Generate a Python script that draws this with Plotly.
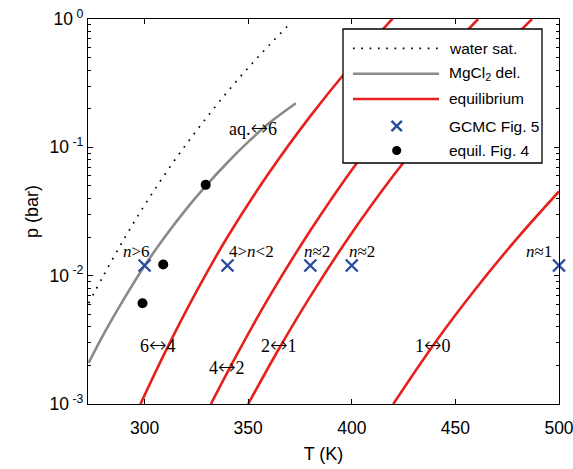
import numpy as np
import plotly.graph_objects as go

# ---------------- data ----------------
water_T = [273, 280, 290, 300, 310, 320, 330, 340, 350, 360, 371]
water_p = [0.0061, 0.0099, 0.0192, 0.0354, 0.0623, 0.105, 0.171, 0.271, 0.416, 0.622, 0.95]

mgcl_T = [273, 280, 290, 300, 310, 320, 330, 340, 350, 360, 373]
mgcl_p = [0.00209, 0.00344, 0.00656, 0.01194, 0.02028, 0.03289, 0.05093, 0.0762, 0.1102, 0.1538, 0.2203]

eq64_T = [298, 310, 325, 340, 360, 380, 400, 420]
eq64_p = [0.001, 0.00255, 0.0075, 0.020, 0.063, 0.175, 0.44, 1.02]

eq42_T = [332, 345, 360, 380, 400, 420, 440, 461]
eq42_p = [0.001, 0.0025, 0.00678, 0.0225, 0.0667, 0.177, 0.434, 1.0]

eq21_T = [350, 365, 380, 400, 420, 440, 460, 487]
eq21_p = [0.001, 0.00272, 0.0069, 0.0215, 0.060, 0.153, 0.359, 1.0]

eq10_T = [420, 440, 460, 480, 500]
eq10_p = [0.001, 0.00298, 0.00798, 0.0197, 0.0453]

gcmc_T = [300, 340, 380, 400, 500]
gcmc_p = [0.012, 0.012, 0.012, 0.012, 0.012]
gcmc_labels = ["<i>n</i>&gt;6", "4&gt;<i>n</i>&lt;2", "<i>n</i>≈2", "<i>n</i>≈2", "<i>n</i>≈1"]

fig4_T = [299, 309, 329.5]
fig4_p = [0.0061, 0.0122, 0.051]

ARROW = '<span style="font-family:DejaVu Sans;font-weight:200;font-size:21px">↔</span>'
trans_labels = ["6" + ARROW + "4", "4" + ARROW + "2", "2" + ARROW + "1", "1" + ARROW + "0", "aq." + ARROW + "6"]
trans_T = [306.3, 339.8, 364.7, 439.4, 352.2]
trans_p = [0.0029, 0.00195, 0.0029, 0.0029, 0.141]

y_tickvals = [0.001, 0.01, 0.1, 1]
y_ticktext = ["10<sup> -3</sup>", "10<sup> -2</sup>", "10<sup> -1</sup>", "10<sup> 0</sup>"]
x_tickvals = [300, 350, 400, 450, 500]

legend_names = ["water sat.", "MgCl<sub>2</sub> del.", "equilibrium", "GCMC Fig. 5", "equil. Fig. 4"]

# ---------------- styles ----------------
RED = "#e8201c"
GRAY = "#8a8a8a"
BLUE = "#2a4c9e"
SANS = "Liberation Sans"
SERIF = "Liberation Serif"
DOTS = "1.7px,6.6px"

W, H = 573, 469
ML, MR, MT, MB = 88, 14, 19, 65

fig = go.Figure()

fig.add_trace(go.Scatter(x=water_T, y=water_p, mode="lines", line_shape="spline",
                         line=dict(color="black", width=1.7, dash=DOTS), showlegend=False))
fig.add_trace(go.Scatter(x=mgcl_T, y=mgcl_p, mode="lines", line_shape="spline",
                         line=dict(color=GRAY, width=2.6), showlegend=False))
for T, p in [(eq64_T, eq64_p), (eq42_T, eq42_p), (eq21_T, eq21_p), (eq10_T, eq10_p)]:
    fig.add_trace(go.Scatter(x=T, y=p, mode="lines", line_shape="spline",
                             line=dict(color=RED, width=2.6), showlegend=False))
fig.add_trace(go.Scatter(x=gcmc_T, y=gcmc_p, mode="markers", cliponaxis=False,
                         marker=dict(symbol="x-thin", size=12, line=dict(color=BLUE, width=2.4)),
                         showlegend=False))
fig.add_trace(go.Scatter(x=fig4_T, y=fig4_p, mode="markers",
                         marker=dict(symbol="circle", size=10, color="black"), showlegend=False))

annotations = []
shifts = [(-8, "center"), (0, "left"), (7, "center"), (10, "center"), (-5, "right")]
for T, p, lab, (xs, xa) in zip(gcmc_T, gcmc_p, gcmc_labels, shifts):
    annotations.append(dict(x=T, y=np.log10(p), xref="x", yref="y", text=lab, showarrow=False,
                            xanchor=xa, yanchor="middle", xshift=xs, yshift=14,
                            font=dict(family=SERIF, size=17, color="black")))
for T, p, lab in zip(trans_T, trans_p, trans_labels):
    annotations.append(dict(x=T, y=np.log10(p), xref="x", yref="y", text=lab, showarrow=False,
                            xanchor="center", yanchor="middle",
                            font=dict(family=SERIF, size=18, color="black")))

# ---------------- manual legend (layout only) ----------------
pw, ph = W - ML - MR, H - MT - MB
def px(x):
    return (x - ML) / pw
def py(y):
    return (H - MB - y) / ph

shapes = []
shapes.append(dict(type="rect", xref="paper", yref="paper", x0=px(343), x1=px(542), y0=py(29), y1=py(163),
                   fillcolor="white", line=dict(color="black", width=1.3), layer="above"))
rows = [48.3, 73.8, 99, 126, 150.5]
shapes.append(dict(type="line", xref="paper", yref="paper", x0=px(353), x1=px(439), y0=py(rows[0]), y1=py(rows[0]),
                   line=dict(color="black", width=1.7, dash=DOTS), layer="above"))
shapes.append(dict(type="line", xref="paper", yref="paper", x0=px(353), x1=px(439), y0=py(rows[1]), y1=py(rows[1]),
                   line=dict(color=GRAY, width=2.6), layer="above"))
shapes.append(dict(type="line", xref="paper", yref="paper", x0=px(353), x1=px(439), y0=py(rows[2]), y1=py(rows[2]),
                   line=dict(color=RED, width=2.6), layer="above"))
cx, r = 396.7, 5.2
shapes.append(dict(type="line", xref="paper", yref="paper", x0=px(cx - r), x1=px(cx + r), y0=py(rows[3] - r), y1=py(rows[3] + r),
                   line=dict(color=BLUE, width=2.4), layer="above"))
shapes.append(dict(type="line", xref="paper", yref="paper", x0=px(cx - r), x1=px(cx + r), y0=py(rows[3] + r), y1=py(rows[3] - r),
                   line=dict(color=BLUE, width=2.4), layer="above"))
rc = 4.6
shapes.append(dict(type="circle", xref="paper", yref="paper", x0=px(cx - rc), x1=px(cx + rc), y0=py(rows[4] + rc), y1=py(rows[4] - rc),
                   fillcolor="black", line=dict(color="black", width=0), layer="above"))
for yy, name in zip(rows, legend_names):
    annotations.append(dict(x=px(446.5), y=py(yy), xref="paper", yref="paper", text=name, showarrow=False,
                            xanchor="left", yanchor="middle",
                            font=dict(family=SANS, size=15.5, color="black")))

minor_vals = [m * 10.0 ** e for e in (-3, -2, -1) for m in range(2, 10)]

fig.update_layout(
    width=W, height=H,
    margin=dict(l=ML, r=MR, t=MT, b=MB, autoexpand=False),
    paper_bgcolor="white", plot_bgcolor="white",
    font=dict(family=SANS, size=17, color="black"),
    showlegend=False,
    annotations=annotations,
    shapes=shapes,
    xaxis=dict(range=[272.7, 500], tickmode="array", tickvals=x_tickvals, automargin=False,
               ticks="inside", ticklen=5, tickwidth=1.2, tickcolor="black",
               showline=True, linecolor="black", linewidth=1.4, mirror="ticks",
               showgrid=False, zeroline=False, ticklabeloverflow="allow", ticklabelstandoff=8,
               tickfont=dict(family=SANS, size=17.5),
               title=dict(text="T (K)", font=dict(family=SANS, size=18), standoff=10)),
    yaxis=dict(type="log", range=[-3, 0], tickmode="array", tickvals=y_tickvals, ticktext=y_ticktext,
               automargin=False,
               ticks="inside", ticklen=5, tickwidth=1.2, tickcolor="black",
               minor=dict(tickmode="array", tickvals=minor_vals, ticks="inside", ticklen=3,
                          tickwidth=1, tickcolor="black", showgrid=False),
               showline=True, linecolor="black", linewidth=1.4, mirror="ticks",
               showgrid=False, zeroline=False, ticklabeloverflow="allow",
               tickfont=dict(family=SANS, size=17.5),
               title=dict(text="p (bar)", font=dict(family=SANS, size=18), standoff=6)),
)

fig.write_html("out.html")
